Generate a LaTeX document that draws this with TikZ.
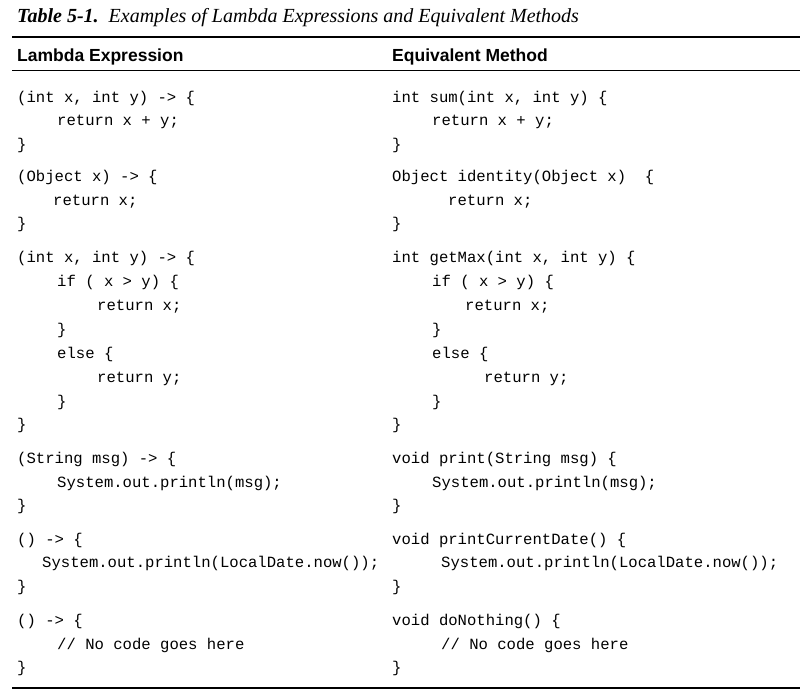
\documentclass[tikz,border=0pt]{standalone}
\usepackage{fontspec}
\setmainfont{Liberation Serif}
\newfontfamily\codefont{Liberation Mono}
\newfontfamily\headfont{Liberation Sans}
\begin{document}
\begin{tikzpicture}[x=1pt,y=-1pt,
  cl/.style={anchor=base west,inner sep=0pt,font=\codefont\fontsize{15.6}{18}\selectfont},
  hd/.style={anchor=base west,inner sep=0pt,font=\headfont\bfseries\fontsize{17.5}{20}\selectfont},
  rule/.style={line width=#1}]
\useasboundingbox (0,0) rectangle (800,696);
\node[anchor=base west,inner sep=0pt,font=\fontsize{20}{23}\selectfont\itshape] (title) at (17,22) {\textbf{Table 5-1.}\ \ Examples of Lambda Expressions and Equivalent Methods};
\draw[rule=1.5pt] (12,37) -- (800,37);
\node[hd] (h1) at (17,61) {Lambda Expression};
\node[hd] (h2) at (392,61) {Equivalent Method};
\draw[rule=0.8pt] (12,70) -- (800,70);
\draw[rule=1.5pt] (12,688) -- (800,688);
\foreach \x/\y/\t [count=\i] in {
17/97/{(int x, int y) -> \{},57/120/{return x + y;},17/144/{\}},
17/176/{(Object x) -> \{},53/200/{return x;},17/223/{\}},
17/257/{(int x, int y) -> \{},57/281/{if ( x > y) \{},97/305/{return x;},57/329/{\}},57/353/{else \{},97/377/{return y;},57/401/{\}},17/424/{\}},
17/458/{(String msg) -> \{},57/482/{System.out.println(msg);},17/505/{\}},
17/539/{() -> \{},42/562/{System.out.println(LocalDate.now());},17/586/{\}},
17/620/{() -> \{},57/644/{// No code goes here},17/667/{\}}}
  \node[cl] (l\i) at (\x,\y+5) {\t};
\foreach \x/\y/\t [count=\i] in {
392/97/{int sum(int x, int y) \{},432/120/{return x + y;},392/144/{\}},
392/176/{Object identity(Object x)~~\{},448/200/{return x;},392/223/{\}},
392/257/{int getMax(int x, int y) \{},432/281/{if ( x > y) \{},465/305/{return x;},432/329/{\}},432/353/{else \{},484/377/{return y;},432/401/{\}},392/424/{\}},
392/458/{void print(String msg) \{},432/482/{System.out.println(msg);},392/505/{\}},
392/539/{void printCurrentDate() \{},441/562/{System.out.println(LocalDate.now());},392/586/{\}},
392/620/{void doNothing() \{},441/644/{// No code goes here},392/667/{\}}}
  \node[cl] (r\i) at (\x,\y+5) {\t};
\end{tikzpicture}
\end{document}
